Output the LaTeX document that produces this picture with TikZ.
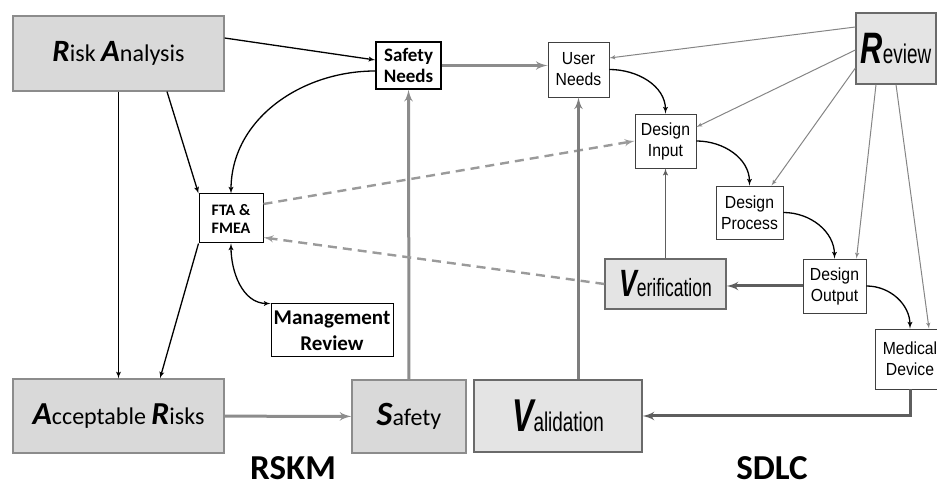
\documentclass[tikz,border=0pt]{standalone}
\usepackage{fontspec}
\usepackage{tikz}
\usetikzlibrary{arrows}

\newfontfamily\calibri{Carlito}
\newfontfamily\narrowbig[FakeStretch=0.7]{Liberation Sans}
\newfontfamily\narrowsm[FakeStretch=0.9]{Liberation Sans}

\definecolor{boxgray}{HTML}{D9D9D9}
\definecolor{boxedge}{HTML}{8C8C8C}
\definecolor{sdlcfill}{HTML}{E4E4E4}
\definecolor{sdlcedge}{HTML}{6A6A6A}
\definecolor{flowgray}{HTML}{8C8C8C}
\definecolor{darkflow}{HTML}{5E5E5E}
\definecolor{dashgray}{HTML}{9A9A9A}
\definecolor{revgray}{HTML}{858585}

% big leading letters
\newcommand{\rskcap}[2]{{\fontsize{#1}{#1}\selectfont\bfseries\itshape #2}}
\newcommand{\sdlccap}[2]{{\fontsize{#1}{#1}\selectfont\bfseries\itshape #2}}

\tikzset{
	rskbox/.style={draw=boxedge, fill=boxgray, line width=1.2pt, inner sep=0pt, font=\calibri},
	sdlcbox/.style={draw=sdlcedge, fill=sdlcfill, line width=1.2pt, inner sep=0pt, font=\narrowbig},
	rsksmall/.style={draw=black, fill=white, line width=1pt, inner sep=0pt, align=center, font=\calibri\bfseries},
	sdlcsmall/.style={draw=black!75, fill=white, line width=0.9pt, inner sep=0pt, align=center, font=\narrowsm\fontsize{17.5}{21}\selectfont},
	thinflow/.style={->, black, line width=1.3pt},
	grayflow/.style={->, flowgray, line width=3pt},
	darkflowline/.style={->, darkflow, line width=3pt},
	dashflow/.style={->, dashgray, line width=2.4pt, dash pattern=on 9pt off 6pt},
	revflow/.style={->, revgray, line width=1pt},
	title/.style={inner sep=0pt, font=\calibri\bfseries\fontsize{35}{35}\selectfont}
}

\begin{document}
\begin{tikzpicture}[>=latex', x=1pt, y=1pt]
	\useasboundingbox (0,0) rectangle (937,489);
	\clip (0,0) rectangle (937,489);

	% Nodes {RSKM side}
	\node [rskbox, minimum width=211pt, minimum height=75pt]	(risk)		at (118.5,435.5)	{\rskcap{31}{R}\fontsize{24}{24}\selectfont isk \rskcap{31}{A}nalysis};
	\node [rskbox, minimum width=211pt, minimum height=74pt]	(accept)	at (118.5,73)		{\rskcap{32}{A}\fontsize{24}{24}\selectfont cceptable \rskcap{32}{R}isks};
	\node [rsksmall, minimum width=65pt, minimum height=47pt, line width=1.5pt, font=\calibri\bfseries\fontsize{19}{21}\selectfont]	(safeneeds)	at (408.5,423.5)	{Safety\\Needs};
	\node [rsksmall, minimum width=64pt, minimum height=49pt, font=\calibri\bfseries\fontsize{16}{18}\selectfont]	(fta)	at (231,270.5)	{FTA \&\\FMEA};
	\node [rsksmall, minimum width=122pt, minimum height=53pt, font=\calibri\bfseries\fontsize{21}{26}\selectfont]	(mgmt)	at (332,158.5)	{Management\\Review};
	\node [rskbox, minimum width=114pt, minimum height=73pt]	(safety)	at (409,72.5)		{\rskcap{34}{S}\fontsize{24}{24}\selectfont afety};

	% Nodes {SDLC side}
	\node [sdlcsmall, minimum width=61pt, minimum height=55pt]	(userneeds)	at (578.5,419.5)	{User\\Needs};
	\node [sdlcsmall, minimum width=61pt, minimum height=54pt]	(desin)		at (665.5,348)		{Design\\Input};
	\node [sdlcsmall, minimum width=67pt, minimum height=53pt]	(desproc)	at (749.5,276.5)	{Design\\Process};
	\node [sdlcsmall, minimum width=63pt, minimum height=54pt]	(desout)	at (834.5,203)		{Design\\Output};
	\node [sdlcsmall, minimum width=70pt, minimum height=60pt]	(meddev)	at (910,130)		{Medical\\Device};
	\node [sdlcbox, minimum width=80pt, minimum height=71pt]	(review)	at (896,440.5)		{\sdlccap{44}{R}\fontsize{27}{27}\selectfont eview};
	\node [sdlcbox, minimum width=121pt, minimum height=50pt]	(verif)		at (665.5,205)		{\sdlccap{38}{V}\fontsize{25}{25}\selectfont erification};
	\node [sdlcbox, minimum width=168pt, minimum height=72pt]	(valid)		at (558,73)			{\sdlccap{46}{V}\fontsize{27}{27}\selectfont alidation};

	% Titles
	\node [title] (rskm) at (293,20.5) {RSKM};
	\node [title] (sdlc) at (772,20.5) {SDLC};

	% Paths {RSKM side}
	\path [thinflow]	([yshift=15.5pt]risk.east)	edge	([yshift=5.5pt]safeneeds.west);
	\path [thinflow]	(risk)						edge	(accept);
	\path [thinflow]	([xshift=48.5pt]risk.south)	edge	(fta.north west);
	\path [thinflow]	([yshift=-5.5pt]safeneeds.west)	edge [out=180, in=90]	(fta.north);
	\path [thinflow]	(fta.south west)			edge	([xshift=41.5pt]accept.north);
	\path [thinflow, <->]	(fta.south)				edge [out=-90, in=180]	(mgmt.north west);
	\path [grayflow]	(accept)					edge	(safety);
	\path [grayflow]	(safety)					edge	(safeneeds);
	\path [grayflow]	(safeneeds.east)			edge	(safeneeds -| userneeds.west);

	% Paths {dashed links}
	\path [dashflow]	([yshift=14.5pt]fta.east)	edge	(desin.west);
	\path [dashflow]	(verif.west)				edge	([yshift=-19pt]fta.east);

	% Paths {SDLC side}
	\path [grayflow, flowgray!90!black]	(userneeds |- valid.north)	edge	(userneeds);
	\draw [darkflowline]	(meddev.south)	|-	(valid.east);
	\path [darkflowline]	(desout)		edge	(desout -| verif.east);
	\path [->, darkflow, line width=1.4pt]	(verif)	edge	(desin);
	\path [thinflow]	(userneeds.east)	edge [out=0, in=90]	(desin.north);
	\path [thinflow]	(desin.east)		edge [out=0, in=90]	(desproc.north);
	\path [thinflow]	(desproc.east)		edge [out=0, in=90]	(desout.north);
	\path [thinflow]	(desout.east)		edge [out=0, in=90]	(meddev.north);

	% Paths {Review}
	\path [revflow]	([yshift=21.5pt]review.west)	edge	([yshift=11.5pt]userneeds.east);
	\path [revflow]	([yshift=-1.5pt]review.west)	edge	([yshift=14pt]desin.east);
	\path [revflow]	([yshift=-19.5pt]review.west)	edge	([xshift=22pt]desproc.north);
	\path [revflow]	([xshift=-20pt]review.south)	edge	([xshift=22pt]desout.north);
	\path [revflow]	(review.south)					edge	([xshift=19pt]meddev.north);

\end{tikzpicture}
\end{document}
